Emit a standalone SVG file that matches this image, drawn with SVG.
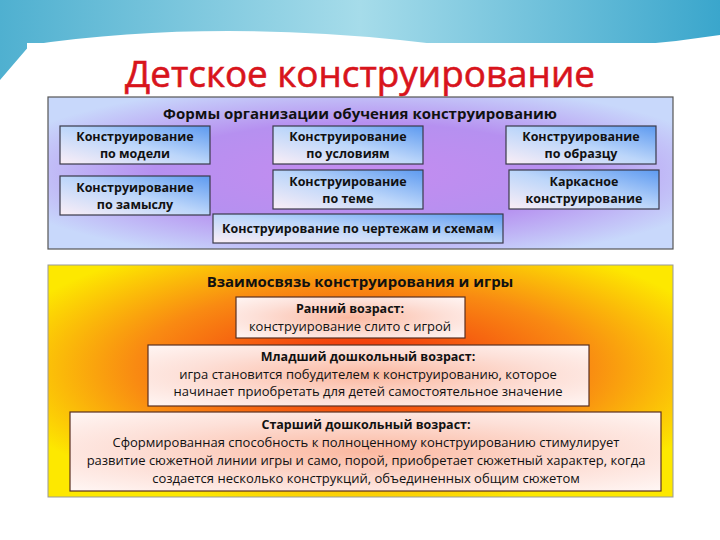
<svg xmlns="http://www.w3.org/2000/svg" width="720" height="540" viewBox="0 0 720 540">
<defs>
<style>
text{font-family:"Open Sans","Liberation Sans",sans-serif;text-anchor:middle;fill:#111}
.h{font-size:15px;font-weight:bold}
.n{font-size:12.5px;font-weight:bold}
.t{font-size:13px}
.bx{fill:url(#bg);stroke:#3a3a4a;stroke-width:1.2}
.ox{fill:url(#og);stroke:#5a3020;stroke-width:1.2}
</style>
<linearGradient id="sky" x1="0" y1="0" x2="1" y2="0"><stop offset="0" stop-color="#4fb0d0"/><stop offset="0.5" stop-color="#a6dcea"/><stop offset="1" stop-color="#3aa6cc"/></linearGradient>
<radialGradient id="pg" cx="0.5" cy="0.5" r="0.6"><stop offset="0" stop-color="#c58cf0"/><stop offset="0.55" stop-color="#b690f0"/><stop offset="1" stop-color="#c8d8fb"/></radialGradient>
<linearGradient id="bg" x1="0" y1="1" x2="1" y2="0"><stop offset="0" stop-color="#fbeef6"/><stop offset="0.5" stop-color="#bcd6fa"/><stop offset="1" stop-color="#5d9af0"/></linearGradient>
<radialGradient id="yg" cx="0.5" cy="0.45" r="0.6"><stop offset="0" stop-color="#f0200c"/><stop offset="0.6" stop-color="#f98a12"/><stop offset="1" stop-color="#fde800"/></radialGradient>
<radialGradient id="og" cx="0.5" cy="0.5" r="0.7"><stop offset="0" stop-color="#fbb8a0"/><stop offset="0.6" stop-color="#fde0d8"/><stop offset="1" stop-color="#fff6f4"/></radialGradient>
</defs>
<rect width="720" height="540" fill="#fff"/>
<path d="M0 0H720V35Q560 60 400 40Q200 20 30 45L0 80Z" fill="url(#sky)"/>
<rect x="27" y="43" width="666" height="472" fill="#fff"/>
<text x="360" y="87" style="font-size:36px;fill:#d8141c;stroke:#d8141c;stroke-width:0.6" textLength="470" lengthAdjust="spacingAndGlyphs">Детское конструирование</text>
<g id="forms">
<rect x="48" y="97" width="625" height="152" fill="url(#pg)" stroke="#555" stroke-width="1.2"/>
<text class="h" x="360" y="119">Формы организации обучения конструированию</text>
</g>
<g id="model"><rect class="bx" x="60" y="126" width="150" height="38"/><text class="n" x="135" y="141">Конструирование</text><text class="n" x="135" y="158">по модели</text></g>
<g id="usloviya"><rect class="bx" x="273" y="126" width="150" height="38"/><text class="n" x="348" y="141">Конструирование</text><text class="n" x="348" y="158">по условиям</text></g>
<g id="obrazec"><rect class="bx" x="506" y="126" width="150" height="38"/><text class="n" x="581" y="141">Конструирование</text><text class="n" x="581" y="158">по образцу</text></g>
<g id="zamysel"><rect class="bx" x="60" y="176" width="150" height="39"/><text class="n" x="135" y="192">Конструирование</text><text class="n" x="135" y="209">по замыслу</text></g>
<g id="tema"><rect class="bx" x="273" y="170" width="150" height="39"/><text class="n" x="348" y="186">Конструирование</text><text class="n" x="348" y="203">по теме</text></g>
<g id="karkas"><rect class="bx" x="509" y="170" width="150" height="39"/><text class="n" x="584" y="186">Каркасное</text><text class="n" x="584" y="203">конструирование</text></g>
<g id="chertezh"><rect class="bx" x="213" y="214" width="290" height="29"/><text class="n" x="358" y="233">Конструирование по чертежам и схемам</text></g>
<g id="igra">
<rect x="48" y="265" width="625" height="232" fill="url(#yg)" stroke="#999" stroke-width="1"/>
<text class="h" x="360" y="287">Взаимосвязь конструирования и игры</text>
</g>
<g id="rann"><rect class="ox" x="236" y="297" width="229" height="41"/><text class="n" x="350" y="313">Ранний возраст:</text><text class="t" x="350" y="331">конструирование слито с игрой</text></g>
<g id="mlad"><rect class="ox" x="148" y="345" width="441" height="61"/><text class="n" x="368" y="361">Младший дошкольный возраст:</text><text class="t" x="368" y="379">игра становится побудителем к конструированию, которое</text><text class="t" x="368" y="396">начинает приобретать для детей самостоятельное значение</text></g>
<g id="star"><rect class="ox" x="70" y="412" width="591" height="79"/><text class="n" x="366" y="429">Старший дошкольный возраст:</text><text class="t" x="366" y="447">Сформированная способность к полноценному конструированию стимулирует</text><text class="t" x="366" y="465">развитие сюжетной линии игры и само, порой, приобретает сюжетный характер, когда</text><text class="t" x="366" y="483">создается несколько конструкций, объединенных общим сюжетом</text></g>
<g id="connectors"/>
</svg>
